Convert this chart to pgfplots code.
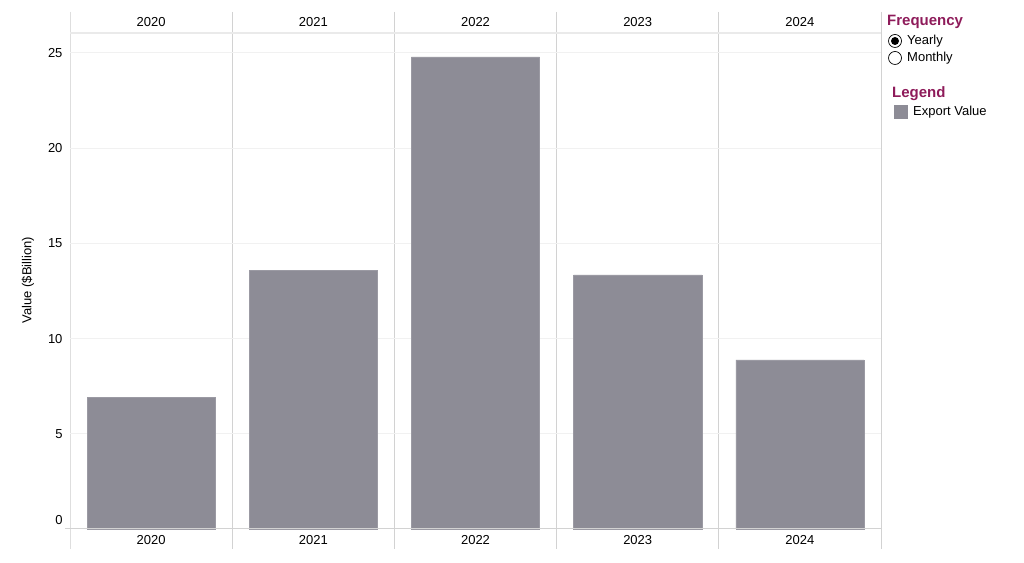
\documentclass[border=0pt]{standalone}
\usepackage{fontspec}
\setmainfont{Liberation Sans}
\usepackage{pgfplots}
\pgfplotsset{compat=1.18}
\definecolor{barc}{HTML}{8D8C96}
\definecolor{baredge}{HTML}{9B9AA3}
\definecolor{gridc}{HTML}{F1F1F1}
\definecolor{sepc}{HTML}{D2D2D2}
\definecolor{sepl}{HTML}{DEDEDE}
\definecolor{topc}{HTML}{EAEAEA}
\definecolor{maroon}{HTML}{8E1B5A}
\begin{document}
\begin{tikzpicture}[x=1bp,y=1bp,font={\fontsize{13bp}{15bp}\selectfont}]
\path[use as bounding box] (0,0) rectangle (1024,563);
% separators
\draw[sepl,line width=1bp] (70,551) -- (70,14);
\foreach \xx in {232.2,394.4,556.6,718.8,881} {
  \draw[sepc,line width=1bp] (\xx,551) -- (\xx,14);
}
\begin{axis}[
  at={(70bp,34bp)}, anchor=south west,
  scale only axis, width=811bp, height=496bp,
  xmin=-0.5, xmax=4.5, ymin=0, ymax=26.05,
  axis line style={draw=none},
  major tick style={draw=none},
  ytick={5,10,15,20,25},
  extra y ticks={0},
  extra y tick style={yticklabel style={yshift=9bp}, grid=none},
  ymajorgrids, grid style={gridc,line width=1bp},
  yticklabel style={xshift=-4bp},
  xtick={0,1,2,3,4},
  xticklabels={2020,2021,2022,2023,2024},
  xticklabel style={anchor=center,yshift=-11bp},
  /pgf/number format/assume math mode=true,
  clip=false,
]
\addplot[ybar, bar width=0.79, fill=barc, draw=baredge, line width=0.5bp]
  coordinates {(0,6.92) (1,13.6) (2,24.8) (3,13.34) (4,8.88)};
\end{axis}
\begin{axis}[
  at={(70bp,34bp)}, anchor=south west,
  scale only axis, width=811bp, height=496bp,
  xmin=-0.5, xmax=4.5, ymin=0, ymax=26.05,
  axis line style={draw=none},
  major tick style={draw=none},
  ytick=\empty,
  xtick={0,1,2,3,4},
  xticklabels={2020,2021,2022,2023,2024},
  xticklabel pos=top,
  xticklabel style={anchor=center,yshift=11bp},
]
\end{axis}
% y label
\node[rotate=90,anchor=center,inner sep=0] at (28,283) {Value (\$Billion)};
% top and bottom lines
\draw[topc,line width=1.5bp] (70,530) -- (881,530);
\draw[sepc,line width=1bp] (65,34) -- (881,34);
% legend
\node[anchor=west,text=maroon,font={\fontsize{15bp}{17bp}\selectfont\bfseries},inner sep=0] at (887,541) {Frequency};
\draw[black,line width=0.7bp] (895,522) circle (6.5);
\fill[black] (895,522) circle (4);
\draw[black,line width=0.7bp] (895,505) circle (6.5);
\node[anchor=west,inner sep=0] at (907,522) {Yearly};
\node[anchor=west,inner sep=0] at (907,505) {Monthly};
\node[anchor=west,text=maroon,font={\fontsize{15bp}{17bp}\selectfont\bfseries},inner sep=0] at (892,469) {Legend};
\fill[barc] (894,444) rectangle (908,458);
\node[anchor=west,inner sep=0] at (913,451) {Export Value};
\end{tikzpicture}
\end{document}
